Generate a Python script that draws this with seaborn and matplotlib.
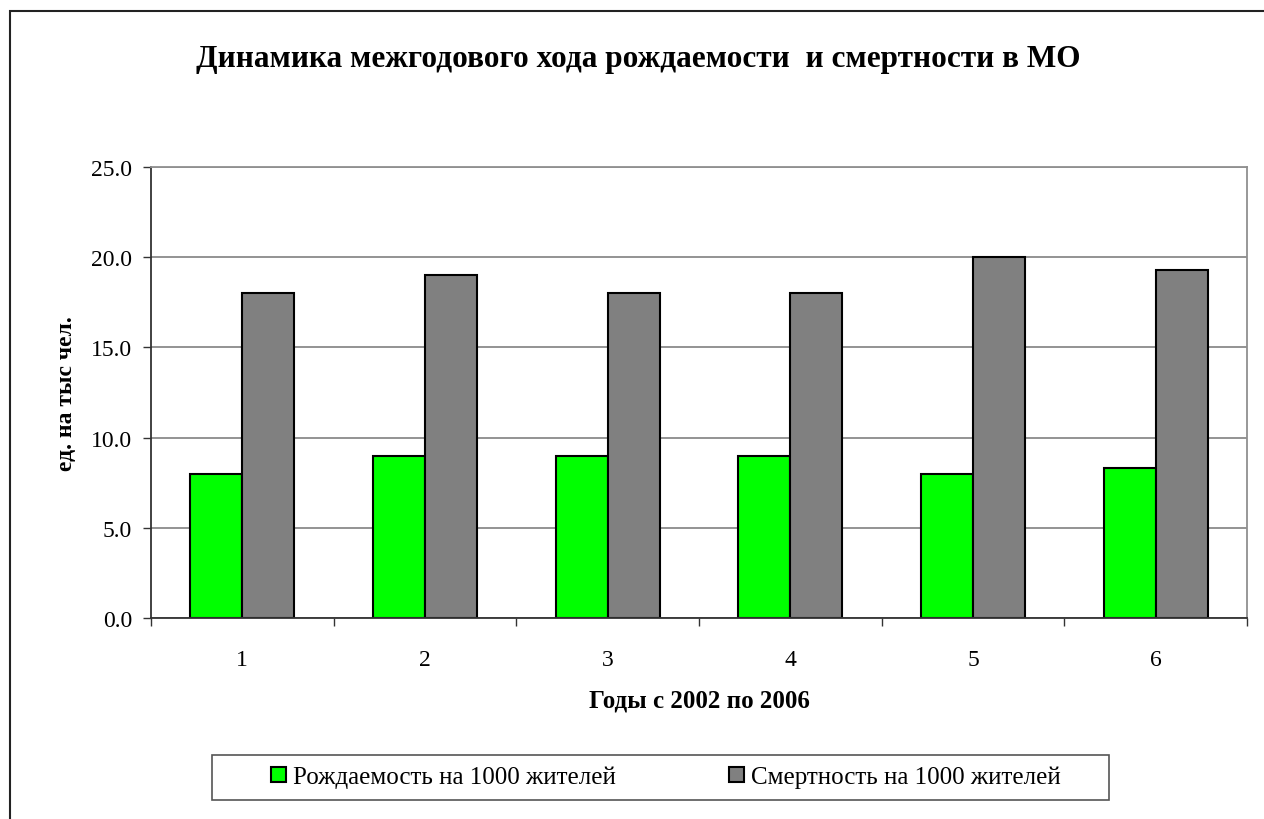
import pandas as pd
import numpy as np
import matplotlib.pyplot as plt
import seaborn as sns
from matplotlib.patches import Rectangle
from matplotlib.ticker import FixedLocator, FormatStrFormatter

# --- data ---
years = ['1', '2', '3', '4', '5', '6']
births = [8.0, 9.0, 9.0, 9.0, 8.0, 8.3]
deaths = [18.0, 19.0, 18.0, 18.0, 20.0, 19.3]
series_names = ['Рождаемость на 1000 жителей', 'Смертность на 1000 жителей']

df = pd.DataFrame({
    'Year': years * 2,
    'Value': births + deaths,
    'Series': [series_names[0]] * len(years) + [series_names[1]] * len(years),
})

sns.set_style('white')
plt.rcParams['font.family'] = ['Liberation Serif', 'DejaVu Serif']
plt.rcParams['text.color'] = 'black'
plt.rcParams['xtick.color'] = 'black'
plt.rcParams['ytick.color'] = 'black'
plt.rcParams['axes.labelcolor'] = 'black'

fig = plt.figure(figsize=(12.64, 8.2), dpi=100)
ax = fig.add_axes([151 / 1264, 1 - 619 / 820, (1247 - 151) / 1264, (619 - 168) / 820])

sns.barplot(data=df, x='Year', y='Value', hue='Series',
            palette=['#00ff00', '#808080'], saturation=1, width=0.57,
            edgecolor='black', linewidth=1.5, ax=ax, legend=True)

ax.set_ylim(0, 25)
ax.set_xlim(-0.5, len(years) - 0.5)
ax.set_yticks(np.arange(0, 25.1, 5))
ax.yaxis.set_major_formatter(FormatStrFormatter('%.1f'))
ax.yaxis.grid(True, color='#808080', linewidth=1.2)
ax.set_axisbelow(True)

ax.xaxis.set_minor_locator(FixedLocator(np.arange(-0.5, len(years), 1.0)))
ax.tick_params(axis='x', which='major', length=0, pad=22, labelsize=17)
ax.tick_params(axis='x', which='minor', length=5.5, width=1, color='#333333', direction='out', bottom=True)
ax.tick_params(axis='y', length=5.5, width=1, color='#333333', direction='out', left=True, labelsize=17, pad=8)

for side in ['left', 'bottom']:
    ax.spines[side].set_color('#333333')
    ax.spines[side].set_linewidth(1.3)
for side in ['top', 'right']:
    ax.spines[side].set_color('#909090')
    ax.spines[side].set_linewidth(1.3)

ax.set_xlabel('Годы с 2002 по 2006', fontsize=18, fontweight='bold', labelpad=14)
ax.set_ylabel('ед. на тыс чел.', fontsize=17, fontweight='bold', labelpad=10)

fig.text(638 / 1264, 1 - 60 / 820, 'Динамика межгодового хода рождаемости  и смертности в МО',
         ha='center', va='center', fontsize=22.5, fontweight='bold')

handles, labels = ax.get_legend_handles_labels()
ax.get_legend().remove()
leg = fig.legend(handles, labels, loc='center', bbox_to_anchor=(666 / 1264, 1 - 778 / 820),
                 ncol=2, frameon=False, fontsize=18,
                 handlelength=0.6, handleheight=0.6, handletextpad=0.3, columnspacing=4.5,
                 borderpad=0.3, borderaxespad=0)

# legend box, wider than the entries like the source
fig.patches.append(Rectangle((212 / 1264, 1 - 801 / 820), (1109 - 212) / 1264, 45 / 820,
                             transform=fig.transFigure, fill=False, edgecolor='#555555', linewidth=1.2))

# outer chart border (cut off at right/bottom like the source)
fig.patches.append(Rectangle((10 / 1264, -0.1), 1.2, 0.1 + 1 - 12 / 820, transform=fig.transFigure,
                             fill=False, edgecolor='#222222', linewidth=1.5))

plt.savefig('out.png', dpi=100)
